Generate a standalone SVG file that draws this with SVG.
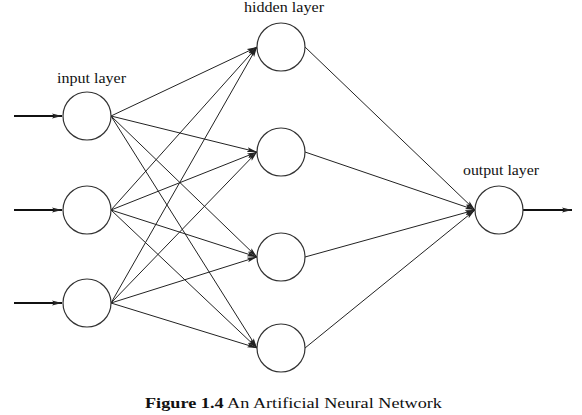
<svg xmlns="http://www.w3.org/2000/svg" width="582" height="415" viewBox="0 0 582 415">
<style>
.node{fill:#fff;stroke:#333;stroke-width:1.2}
.edge{stroke:#222;stroke-width:1;fill:none;marker-end:url(#ah)}
.io{stroke:#111;stroke-width:2;fill:none;marker-end:url(#ah2)}
.lbl{font-family:"Liberation Serif",serif;font-size:14.5px;fill:#111}
.cap{font-family:"Liberation Serif",serif;font-size:15.5px;fill:#111}
</style>
<defs>
<marker id="ah" viewBox="0 0 10 6" refX="10" refY="3" markerWidth="10" markerHeight="6" markerUnits="userSpaceOnUse" orient="auto">
<path d="M0,0.6 L10,3 L0,5.4 L2,3 Z" fill="#222"/>
</marker>
<marker id="ah2" viewBox="0 0 10 6" refX="10" refY="3" markerWidth="10" markerHeight="6" markerUnits="userSpaceOnUse" orient="auto">
<path d="M0,0.6 L10,3 L0,5.4 L2,3 Z" fill="#222"/>
</marker>
</defs>
<g id="connectors">
<line class="io" x1="14" y1="116" x2="62" y2="116"/>
<line class="io" x1="14" y1="210" x2="62" y2="210"/>
<line class="io" x1="14" y1="303" x2="62" y2="303"/>
<line class="io" x1="523" y1="210" x2="572" y2="210"/>
<line class="edge" x1="111" y1="116" x2="257" y2="47"/>
<line class="edge" x1="111" y1="116" x2="257" y2="152"/>
<line class="edge" x1="111" y1="116" x2="257" y2="257"/>
<line class="edge" x1="111" y1="116" x2="257" y2="348"/>
<line class="edge" x1="111" y1="210" x2="257" y2="47"/>
<line class="edge" x1="111" y1="210" x2="257" y2="152"/>
<line class="edge" x1="111" y1="210" x2="257" y2="257"/>
<line class="edge" x1="111" y1="210" x2="257" y2="348"/>
<line class="edge" x1="111" y1="303" x2="257" y2="47"/>
<line class="edge" x1="111" y1="303" x2="257" y2="152"/>
<line class="edge" x1="111" y1="303" x2="257" y2="257"/>
<line class="edge" x1="111" y1="303" x2="257" y2="348"/>
<line class="edge" x1="305" y1="47" x2="475" y2="210"/>
<line class="edge" x1="305" y1="152" x2="475" y2="210"/>
<line class="edge" x1="305" y1="257" x2="475" y2="210"/>
<line class="edge" x1="305" y1="348" x2="475" y2="210"/>
</g>
<g id="input1"><circle class="node" cx="87" cy="116" r="24"/></g>
<g id="input2"><circle class="node" cx="87" cy="210" r="24"/></g>
<g id="input3"><circle class="node" cx="87" cy="303" r="24"/></g>
<g id="hidden1"><circle class="node" cx="281" cy="47" r="24"/></g>
<g id="hidden2"><circle class="node" cx="281" cy="152" r="24"/></g>
<g id="hidden3"><circle class="node" cx="281" cy="257" r="24"/></g>
<g id="hidden4"><circle class="node" cx="281" cy="348" r="24"/></g>
<g id="output"><circle class="node" cx="499" cy="210" r="24"/></g>
<text class="lbl" x="57" y="83" textLength="69" lengthAdjust="spacingAndGlyphs">input layer</text>
<text class="lbl" x="244" y="12" textLength="80" lengthAdjust="spacingAndGlyphs">hidden layer</text>
<text class="lbl" x="463" y="175" textLength="76" lengthAdjust="spacingAndGlyphs">output layer</text>
<text class="cap" x="145" y="408" textLength="297" lengthAdjust="spacingAndGlyphs"><tspan font-weight="bold">Figure 1.4</tspan> An Artificial Neural Network</text>
</svg>
